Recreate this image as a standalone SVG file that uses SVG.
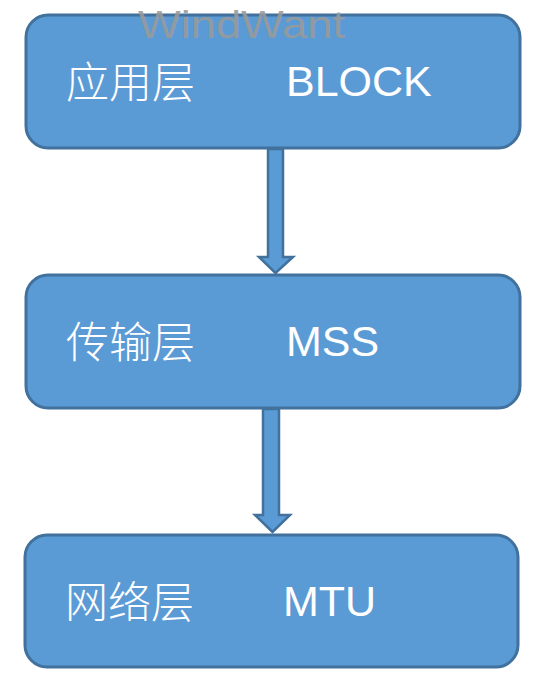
<svg xmlns="http://www.w3.org/2000/svg" width="544" height="692" viewBox="0 0 544 692">
<style>
.box{fill:#5b9bd5;stroke:#41719c;stroke-width:3}
.arrow{fill:#5b9bd5;stroke:#41719c;stroke-width:2.5;stroke-linejoin:miter}
.cn{font-family:"Noto Sans CJK SC",sans-serif;font-size:43px;fill:#ffffff;font-weight:300}
.en{font-family:"Liberation Sans",Arial,sans-serif;font-size:43px;fill:#ffffff}
.wm{font-family:"Liberation Sans",Arial,sans-serif;font-size:39px;fill:#9a9a9a;fill-opacity:0.9}
</style>
<rect width="544" height="692" fill="#ffffff"/>
<g id="connectors">
<path class="arrow" d="M268,149 L283,149 L283,257 L293,257 L275.5,273 L259,257 L268,257 Z"/>
<path class="arrow" d="M263,409 L279,409 L279,515 L290,515 L272.5,532 L255,515 L263,515 Z"/>
</g>
<g id="node-app">
<rect class="box" x="26" y="15" width="494" height="133" rx="22"/>
<text class="cn" x="66" y="98">应用层</text>
<text class="en" x="286" y="96">BLOCK</text>
</g>
<g id="node-transport">
<rect class="box" x="26" y="275" width="494" height="133" rx="22"/>
<text class="cn" x="66" y="358">传输层</text>
<text class="en" x="286" y="356">MSS</text>
</g>
<g id="node-network">
<rect class="box" x="25" y="535" width="493" height="132" rx="22"/>
<text class="cn" x="65" y="618">网络层</text>
<text class="en" x="283" y="616">MTU</text>
</g>
<text class="wm" x="138" y="38" textLength="207" lengthAdjust="spacingAndGlyphs">WindWant</text>
</svg>
